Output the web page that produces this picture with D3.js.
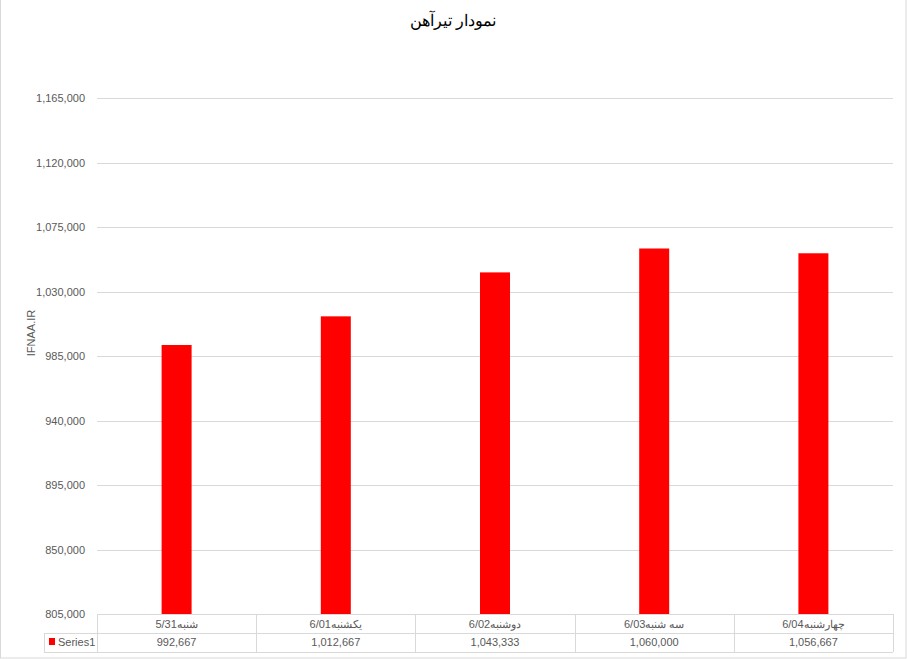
<!DOCTYPE html>
<html>
<head>
<meta charset="utf-8">
<script src="https://cdn.jsdelivr.net/npm/d3@7"></script>
<style>
  body { margin: 0; background: #fff; }
  text { font-family: "Liberation Sans", Arial, sans-serif; }
</style>
</head>
<body>
<div id="chart"></div>
<script>
const days = ["شنبه5/31", "یکشنبه6/01", "دوشنبه6/02", "سه شنبه6/03", "چهارشنبه6/04"]
const values = [992667, 1012667, 1043333, 1060000, 1056667]
const yTicks = [805000, 850000, 895000, 940000, 985000, 1030000, 1075000, 1120000, 1165000]
const seriesName = "Series1"
const chartTitle = "نمودار تیرآهن"
const axisTitle = "IFNAA.IR"

const width = 907, height = 659
const plotLeft = 97, plotRight = 893, plotTop = 98, plotBottom = 614
const fmt = d3.format(",")

const svg = d3.select("#chart").append("svg")
              .attr("width", width)
              .attr("height", height)

// outer border
svg.append("rect")
   .attr("x", 0.5).attr("y", -1).attr("width", 905.5).attr("height", 659)
   .attr("fill", "none").attr("stroke", "#d9d9d9")

const yScale = d3.scaleLinear().domain([805000, 1165000]).range([plotBottom, plotTop])
const xScale = d3.scaleBand().domain(days).range([plotLeft, plotRight]).paddingInner(0).paddingOuter(0)

// gridlines
svg.append("g")
   .selectAll("line")
   .data(yTicks.slice(1))
   .join("line")
   .attr("x1", plotLeft).attr("x2", plotRight)
   .attr("y1", d => Math.round(yScale(d)) + 0.5)
   .attr("y2", d => Math.round(yScale(d)) + 0.5)
   .attr("stroke", "#d9d9d9")

// y axis labels
const yAxis = d3.axisLeft(yScale).tickValues(yTicks).tickFormat(fmt).tickSize(0).tickPadding(12)
const yg = svg.append("g").attr("transform", "translate(" + plotLeft + ",0)").call(yAxis)
yg.select(".domain").remove()
yg.selectAll("text").attr("font-size", 11).attr("fill", "#595959")
  .attr("font-family", "Liberation Sans, Arial, sans-serif")

// bars
const barW = 30
svg.append("g")
   .selectAll("rect")
   .data(values)
   .join("rect")
   .attr("x", (d, i) => xScale(days[i]) + xScale.bandwidth() / 2 - barW / 2)
   .attr("y", d => yScale(d))
   .attr("width", barW)
   .attr("height", d => plotBottom - yScale(d))
   .attr("fill", "#ff0000")

// data table
const rowMid = 633, rowBot = 652, legendLeft = 44
const tbl = svg.append("g").attr("stroke", "#d9d9d9").attr("fill", "none")
tbl.append("line").attr("x1", plotLeft).attr("x2", plotRight).attr("y1", plotBottom + 0.5).attr("y2", plotBottom + 0.5)
tbl.append("line").attr("x1", legendLeft).attr("x2", plotRight).attr("y1", rowMid + 0.5).attr("y2", rowMid + 0.5)
tbl.append("line").attr("x1", legendLeft).attr("x2", plotRight).attr("y1", rowBot + 0.5).attr("y2", rowBot + 0.5)
tbl.append("line").attr("x1", legendLeft + 0.5).attr("x2", legendLeft + 0.5).attr("y1", rowMid).attr("y2", rowBot)
tbl.selectAll(".col")
   .data(days.concat(["end"]))
   .join("line")
   .attr("x1", (d, i) => Math.round(i < days.length ? xScale(d) : plotRight) + 0.5)
   .attr("x2", (d, i) => Math.round(i < days.length ? xScale(d) : plotRight) + 0.5)
   .attr("y1", plotBottom).attr("y2", rowBot)

svg.append("g")
   .selectAll("text")
   .data(days)
   .join("text")
   .attr("x", d => xScale(d) + xScale.bandwidth() / 2)
   .attr("y", 628)
   .attr("text-anchor", "middle")
   .attr("font-size", 11)
   .attr("fill", "#595959")
   .text(d => d)

svg.append("g")
   .selectAll("text")
   .data(values)
   .join("text")
   .attr("x", (d, i) => xScale(days[i]) + xScale.bandwidth() / 2)
   .attr("y", 646)
   .attr("text-anchor", "middle")
   .attr("font-size", 11)
   .attr("fill", "#595959")
   .text(d => fmt(d))

svg.append("rect").attr("x", 49).attr("y", 638).attr("width", 6).attr("height", 7).attr("fill", "#ff0000")
svg.append("text").attr("x", 58).attr("y", 646).attr("font-size", 11).attr("fill", "#595959").text(seriesName)

// titles
svg.append("text")
   .attr("x", 453).attr("y", 26)
   .attr("text-anchor", "middle")
   .attr("font-size", 16)
   .attr("fill", "#000")
   .attr("direction", "rtl")
   .text(chartTitle)

svg.append("text")
   .attr("transform", "translate(35,333) rotate(-90)")
   .attr("text-anchor", "middle")
   .attr("font-size", 11)
   .attr("fill", "#595959")
   .text(axisTitle)
</script>
</body>
</html>
